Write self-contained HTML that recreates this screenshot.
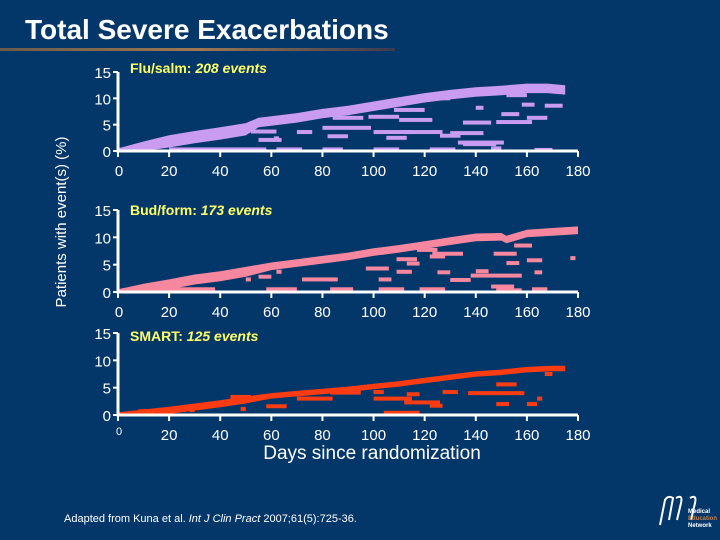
<!DOCTYPE html>
<html><head><meta charset="utf-8">
<style>
html,body{margin:0;padding:0;background:#043769;}
#slide{position:relative;width:720px;height:540px;overflow:hidden;background:#043769;font-family:"Liberation Sans",sans-serif;}
</style></head>
<body>
<div id="slide">
<svg id="chart" width="720" height="540" xmlns="http://www.w3.org/2000/svg">
  <defs>
    <linearGradient id="ul" x1="0" x2="1" y1="0" y2="0">
      <stop offset="0" stop-color="#6b5a4a"/><stop offset="0.5" stop-color="#a07850"/><stop offset="1" stop-color="#3a3a50"/>
    </linearGradient>
  </defs>
  <text x="25" y="39" fill="#fff" font-size="28" font-weight="bold">Total Severe Exacerbations</text>
  <rect x="0" y="48" width="395" height="3" fill="url(#ul)"/>
  <text transform="translate(66,222) rotate(-90)" fill="#fff" font-size="15" text-anchor="middle">Patients with event(s) (%)</text>
  <text x="372" y="459" fill="#fff" font-size="19" text-anchor="middle">Days since randomization</text>
  <text x="64" y="522" fill="#fff" font-size="11">Adapted from Kuna et al. <tspan font-style="italic">Int J Clin Pract</tspan> 2007;61(5):725-36.</text>
  <g fill="none" stroke="#fff" stroke-width="2">
    <path d="M660 525 L665 500 Q668 495 673 498 L669 520 M676 498 Q683 494 681 503 L677 520 M690 498 Q697 494 695 503 L691 520"/>
    <text x="688" y="513" fill="#fff" stroke="none" font-size="6" font-weight="bold">Medical</text>
    <text x="688" y="520" fill="#c08050" stroke="none" font-size="6" font-weight="bold">Education</text>
    <text x="688" y="527" fill="#fff" stroke="none" font-size="6" font-weight="bold">Network</text>
  </g>
  <g id="plots"></g>
</svg>
</div>
<script>
// x axis days
const xTicks = [0,20,40,60,80,100,120,140,160,180];
const yTicks = [0,5,10,15];
// panel labels
const panelNames = ["Flu/salm: ", "Bud/form: ", "SMART: "];
const panelEvents = ["208 events", "173 events", "125 events"];
const panelColors = ["#c99cf2", "#f7869f", "#fb3b12"];
// cumulative curves (days, %)
const curveDays1 = [0,10,20,30,40,50,55,60,70,80,90,100,110,120,130,140,150,160,168,175];
const curveVals1 = [0.5,1.8,3.0,3.8,4.5,5.3,6.3,6.6,7.2,8.0,8.6,9.4,10.2,11.0,11.6,12.1,12.4,12.8,12.8,12.5];
const curveDays2 = [0,10,20,30,40,50,60,70,80,90,100,110,120,130,140,150,152,160,170,180];
const curveVals2 = [0.5,1.5,2.3,3.2,3.8,4.6,5.4,6.0,6.6,7.2,8.0,8.6,9.3,10.0,10.7,10.8,10.3,11.4,11.7,12.0];
const curveDays3 = [0,10,20,30,40,50,60,70,80,90,100,110,120,130,140,150,160,170,175];
const curveVals3 = [0.5,1.0,1.5,2.1,2.7,3.4,4.0,4.4,4.8,5.2,5.7,6.2,6.8,7.4,8.0,8.3,8.8,9.0,9.0];
const curveDays = [curveDays1, curveDays2, curveDays3];
const curveVals = [curveVals1, curveVals2, curveVals3];
// horizontal event segments: start day, end day, %
const segStart1 = [20,62,80,100,122,146,163,135,55,70,52,61,80,82,84,98,100,105,108,110,112,118,126,130,133,135,140,150,148,152,158,160,167];
const segEnd1   = [58,72,88,110,132,150,170,148,64,76,62,63,99,90,96,110,115,113,120,123,127,130,134,143,151,146,143,157,162,160,163,168,174];
const segVal1   = [0.3,0.3,0.3,0.3,0.3,0.5,0.2,1.3,2.1,3.6,3.7,2.4,4.4,2.8,6.3,6.5,3.6,2.5,7.8,5.9,3.6,10.0,2.9,3.4,1.6,5.4,8.2,7.0,5.5,10.6,8.8,6.3,8.6];
const segStart2 = [12,58,83,102,118,146,148,162,72,50,55,62,97,102,109,109,113,117,122,123,125,130,138,140,147,152,155,160,163,177];
const segEnd2   = [38,70,92,112,128,155,158,168,86,52,60,64,106,107,115,117,118,125,128,135,130,138,158,145,156,157,162,166,166,179];
const segVal2   = [0.5,0.5,0.5,0.5,0.5,1.0,0.3,0.5,2.3,2.3,2.8,3.7,4.3,2.3,3.7,6.0,5.2,7.7,6.5,7.0,3.6,2.2,3.0,3.8,7.0,5.3,8.5,5.8,3.6,6.2];
const segStart3 = [8,28,48,58,44,70,83,100,100,104,112,113,122,127,137,148,148,160,164,167];
const segEnd3   = [22,30,50,66,52,84,95,104,115,118,126,118,127,133,159,153,156,164,166,170];
const segVal3   = [0.7,0.9,1.1,1.6,3.3,3.0,4.1,4.2,3.0,0.4,2.3,3.8,1.7,4.2,4.0,2.0,5.6,2.0,3.0,7.5];
const segStarts = [segStart1, segStart2, segStart3];
const segEnds = [segEnd1, segEnd2, segEnd3];
const segVals = [segVal1, segVal2, segVal3];

const NS = "http://www.w3.org/2000/svg";
const plots = document.getElementById('plots');
const X0 = 118, X1 = 578;
const panels = [{y0:151, y15:72, bw:1.8, lab:[130,73]}, {y0:292, y15:210, bw:1.4, lab:[130,215]}, {y0:415, y15:333, bw:1.0, lab:[130,341]}];
function xs(d){ return X0 + d/180*(X1-X0); }
function mk(tag, attrs, parent){
  const e = document.createElementNS(NS, tag);
  for (const k in attrs) e.setAttribute(k, attrs[k]);
  parent.appendChild(e);
  return e;
}
panels.forEach((p, i) => {
  const ys = v => p.y0 - v/15*(p.y0 - p.y15);
  const g = mk('g', {}, plots);
  
  
  const d = curveDays[i], v = curveVals[i];
  let top = d.map((dd,k)=> xs(dd)+','+ys(v[k]).toFixed(1));
  let bot = d.map((dd,k)=> xs(dd)+','+ys(Math.max(0,v[k]-p.bw*(k<6?1.3:1))).toFixed(1)).reverse();
  const band = mk('polygon', {points: top.concat(bot).join(' '), fill: panelColors[i]}, g);
  
  
  segStarts[i].forEach((s, k) => {
    const r = mk('rect', {x: xs(s), y: ys(segVals[i][k]) - 2, width: Math.max(3, xs(segEnds[i][k]) - xs(s)), height: 4, fill: panelColors[i]}, g);
    
    
  });
  const ax = mk('path', {d: `M${X0} ${p.y15} L${X0} ${p.y0} L${X1} ${p.y0}`, stroke: '#fff', 'stroke-width': 3, fill: 'none'}, g);
  
  
  yTicks.forEach(t => {
    const l = mk('line', {x1: X0-5, x2: X0, y1: ys(t), y2: ys(t), stroke: '#fff', 'stroke-width': 2}, g);
    
    
    const tx = mk('text', {x: X0-7, y: ys(t)+6, fill: '#fff', 'font-size': 15, 'text-anchor': 'end'}, g);
    tx.textContent = t;
    
    
  });
  xTicks.forEach(t => {
    const l = mk('line', {x1: xs(t), x2: xs(t), y1: p.y0, y2: p.y0+6, stroke: '#fff', 'stroke-width': 2}, g);
    
    
    const tx = mk('text', {x: xs(t)+(t===0?1:0), y: p.y0+25, fill: '#fff', 'font-size': (i===2&&t===0)?11:15, 'text-anchor': 'middle'}, g);
    if (i===2 && t===0) tx.setAttribute('y', p.y0+20);
    tx.textContent = t;
    
    
  });
  const lab = mk('text', {x: p.lab[0], y: p.lab[1], fill: '#ffff66', 'font-size': 14, 'font-weight': 'bold'}, g);
  lab.textContent = panelNames[i];
  const it = mk('tspan', {'font-style': 'italic'}, lab);
  it.textContent = panelEvents[i];
  
  
});
</script>
</body></html>
